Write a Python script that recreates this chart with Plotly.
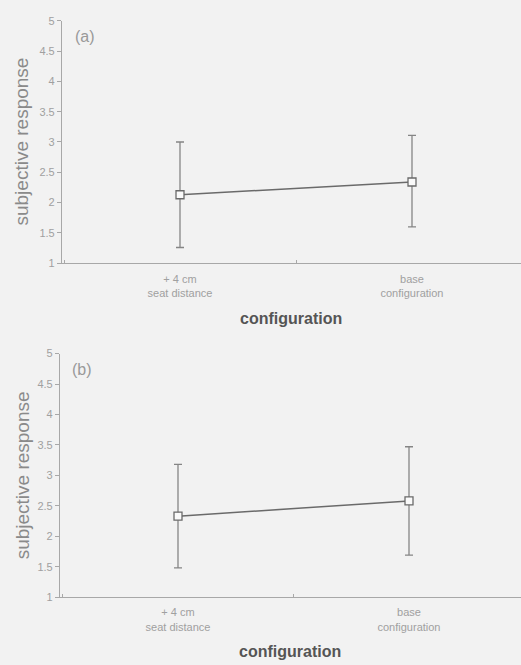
import plotly.graph_objects as go

W, H = 521, 665
OFF = 0
BG = "#f2f2f2"

config = ["+ 4 cm<br>seat distance", "base<br>configuration"]
yticks = [1, 1.5, 2, 2.5, 3, 3.5, 4, 4.5, 5]

mean_a = [2.13, 2.34]
upper_a = [3.00, 3.11]
lower_a = [1.26, 1.60]

mean_b = [2.33, 2.58]
upper_b = [3.18, 3.47]
lower_b = [1.48, 1.69]

line_col = "#6a6a6a"
axis_col = "#a8a8a8"
tick_col = "#a0a0a0"
font_fam = "Liberation Sans, Arial, sans-serif"

fig = go.Figure()

for mean, up, lo, xa, ya in [(mean_a, upper_a, lower_a, "x", "y"),
                             (mean_b, upper_b, lower_b, "x2", "y2")]:
    fig.add_trace(go.Scatter(
        x=config, y=mean, xaxis=xa, yaxis=ya, mode="lines+markers",
        line=dict(color=line_col, width=1.5),
        marker=dict(symbol="square", size=8, color="#fafafa",
                    line=dict(color=line_col, width=1.3)),
        error_y=dict(type="data", symmetric=False,
                     array=[u - m for u, m in zip(up, mean)],
                     arrayminus=[m - l for m, l in zip(mean, lo)],
                     color="#858585", thickness=1.3, width=4),
        showlegend=False,
    ))

def px_x(p):
    return (p - OFF) / W

def px_y(p):
    return 1 - (p - OFF) / H

def xrange(axis_px, cat0_px, spacing):
    r0 = -(cat0_px - axis_px) / spacing
    r1 = r0 + (W + OFF - axis_px) / spacing
    return [r0, r1]

xcommon = dict(type="category", showline=True, linecolor=axis_col, linewidth=1.2,
               ticks="inside", ticklen=3, tickcolor=axis_col, tickson="boundaries",
               tickfont=dict(size=11, color=tick_col, family=font_fam),
               showgrid=False, zeroline=False, ticklabelstandoff=5)
ycommon = dict(range=[1, 5], tickvals=yticks, showline=True, linecolor=axis_col,
               linewidth=1.2, ticks="outside", ticklen=4, tickcolor=axis_col,
               tickfont=dict(size=11, color=tick_col, family=font_fam),
               showgrid=False, zeroline=False)

fig.update_layout(
    width=W, height=H,
    margin=dict(l=0, r=0, t=0, b=0),
    paper_bgcolor=BG, plot_bgcolor=BG,
    font=dict(family=font_fam),
    xaxis=dict(domain=[px_x(62), 1], range=xrange(62, 180, 232), anchor="y", **xcommon),
    yaxis=dict(domain=[px_y(262), px_y(15)], anchor="x", **ycommon),
    xaxis2=dict(domain=[px_x(60), 1], range=xrange(60, 178, 231), anchor="y2", **xcommon),
    yaxis2=dict(domain=[px_y(602), px_y(354)], anchor="x2", **ycommon),
)

ann = []
for yc in [138, 478]:
    ann.append(dict(text="subjective response", x=px_x(22), y=px_y(yc), xref="paper",
                    yref="paper", textangle=-90, showarrow=False,
                    xanchor="center", yanchor="middle",
                    font=dict(size=19, color="#8a8a8a", family=font_fam)))
for xc, yc in [(291, 318), (290, 657)]:
    ann.append(dict(text="<b>configuration</b>", x=px_x(xc), y=px_y(yc), xref="paper",
                    yref="paper", showarrow=False, xanchor="center", yanchor="middle",
                    font=dict(size=16, color="#555555", family=font_fam)))
for txt, xc, yc in [("(a)", 85, 31), ("(b)", 82, 370)]:
    ann.append(dict(text=txt, x=px_x(xc), y=px_y(yc), xref="paper", yref="paper",
                    showarrow=False, xanchor="center", yanchor="middle",
                    font=dict(size=16, color="#999999", family=font_fam)))
fig.update_layout(annotations=ann)

fig.write_html(
    "out.html",
    config={"displayModeBar": False},
    post_script="document.body.style.margin='0';document.body.style.background='%s';" % BG,
)
